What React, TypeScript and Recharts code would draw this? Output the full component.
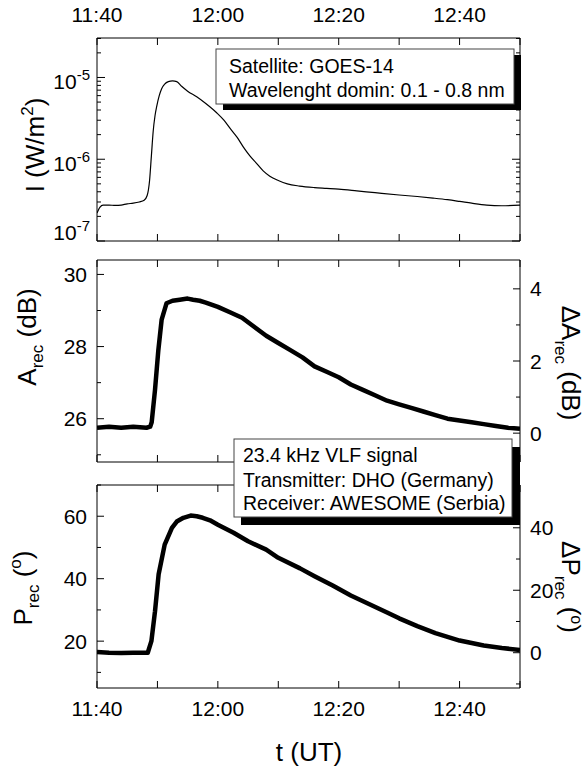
import React from 'react';
import { LineChart, Line, XAxis, YAxis } from 'recharts';

const FONT = '"Liberation Sans", Arial, sans-serif';

// minutes after 11:40 UT
const goesMin = [0, 0.5, 1, 2, 3, 4, 5, 6, 7, 7.8, 8.3, 8.7, 9.0, 9.3, 9.6, 9.9, 10.3, 10.7, 11.2, 11.8, 12.5, 13.2, 14.0, 15, 16.5, 18, 19.8, 21, 22, 23.2, 24.2, 25.3, 26.4, 27.5, 28.6, 30, 31.5, 33.5, 36, 38, 40, 43, 46, 50, 53, 55.6, 58, 60, 62, 64.5, 67, 70];
const goesFlux = [2.2e-7, 2.6e-7, 2.75e-7, 2.75e-7, 2.72e-7, 2.75e-7, 2.85e-7, 2.9e-7, 3.0e-7, 3.15e-7, 3.6e-7, 5.5e-7, 1.1e-6, 2.2e-6, 3.4e-6, 4.5e-6, 6.0e-6, 7.3e-6, 8.3e-6, 8.9e-6, 9.1e-6, 8.9e-6, 7.8e-6, 6.8e-6, 5.8e-6, 4.8e-6, 3.7e-6, 3.0e-6, 2.4e-6, 1.85e-6, 1.42e-6, 1.1e-6, 8.9e-7, 7.2e-7, 6.2e-7, 5.5e-7, 5.0e-7, 4.7e-7, 4.5e-7, 4.4e-7, 4.3e-7, 4.1e-7, 3.9e-7, 3.65e-7, 3.5e-7, 3.35e-7, 3.2e-7, 3.05e-7, 2.9e-7, 2.75e-7, 2.7e-7, 2.75e-7];

const ampMin = [0, 2, 4, 6, 8.2, 8.8, 9.05, 9.6, 10.15, 10.7, 11.5, 12.5, 13.7, 15, 15.9, 17, 18, 20, 22, 24, 26, 28, 30, 32, 34, 36, 38, 40, 42, 44, 46, 48, 50, 52, 54, 56, 58, 60, 62, 64, 66, 68, 70];
const ampDb = [25.75, 25.78, 25.75, 25.78, 25.75, 25.78, 25.9, 26.8, 27.9, 28.75, 29.2, 29.27, 29.3, 29.33, 29.3, 29.27, 29.22, 29.1, 28.95, 28.8, 28.55, 28.3, 28.1, 27.9, 27.7, 27.45, 27.3, 27.15, 26.95, 26.8, 26.65, 26.5, 26.4, 26.3, 26.2, 26.1, 26.0, 25.95, 25.9, 25.85, 25.8, 25.75, 25.72];

const phaseMin = [0, 2, 4, 6, 8.4, 9.0, 9.6, 10.2, 11.2, 12.4, 13.2, 14.3, 15.5, 16.5, 17.5, 18.7, 20, 22.6, 25, 28, 30, 33.6, 36, 39, 42, 45, 48, 50, 53, 56, 60, 64, 67, 70];
const phaseDeg = [16.5, 16.3, 16.2, 16.3, 16.3, 20, 29.6, 41.4, 50.9, 56.3, 58.3, 59.5, 60.2, 60, 59.5, 58.7, 57.3, 54.7, 52, 49.3, 46.7, 43.3, 40.8, 37.8, 34.6, 31.9, 29.2, 27.3, 24.8, 22.6, 20.2, 18.6, 17.8, 17.2];

const timeTicks = [0, 10, 20, 30, 40, 50, 60, 70];
const timeLabels: Record<number, string> = { 0: '11:40', 20: '12:00', 40: '12:20', 60: '12:40' };

const fluxTicks = [1e-7, 2e-7, 3e-7, 4e-7, 5e-7, 6e-7, 7e-7, 8e-7, 9e-7, 1e-6, 2e-6, 3e-6, 4e-6, 5e-6, 6e-6, 7e-6, 8e-6, 9e-6, 1e-5, 2e-5, 3e-5];
const ampTicks = [25, 26, 27, 28, 29, 30];
const ampMajor = [26, 28, 30];
const dAmpTicks = [0, 1, 2, 3, 4];
const dAmpMajor = [0, 2, 4];
const phaseTicks = [10, 20, 30, 40, 50, 60, 70];
const phaseMajor = [20, 40, 60];
const dPhaseTicks = [-10, 0, 10, 20, 30, 40, 50];
const dPhaseMajor = [0, 20, 40];

const AMP_REF = 25.6;
const PHASE_REF = 16.3;
const ampDomain = [24.8, 30.4];
const phaseDomain = [5, 70];

const goesData = goesMin.map((t, i) => ({ t, v: goesFlux[i] }));
const ampData = ampMin.map((t, i) => ({ t, v: ampDb[i] }));
const phaseData = phaseMin.map((t, i) => ({ t, v: phaseDeg[i] }));

const tickText = { fontFamily: FONT, fontSize: 21, fill: '#000' };

const xTick = (side: 'top' | 'bottom', withLabels: boolean) => (props: any) => {
  const { x, y, payload } = props;
  const dir = side === 'top' ? 1 : -1;
  const label = withLabels ? timeLabels[payload.value] : undefined;
  return (
    <g>
      <line x1={x} y1={y} x2={x} y2={y + dir * 7} stroke="#000" />
      {label && (
        <text x={x} y={side === 'top' ? y - 16 : y + 28} textAnchor="middle" {...tickText}>
          {label}
        </text>
      )}
    </g>
  );
};

const yTick = (side: 'left' | 'right', major: number[], withLabels: boolean) => (props: any) => {
  const { x, y, payload } = props;
  const v = payload.value;
  const isMajor = major.includes(v);
  const dir = side === 'left' ? 1 : -1;
  return (
    <g>
      <line x1={x} y1={y} x2={x + dir * (isMajor ? 7 : 4)} y2={y} stroke="#000" />
      {withLabels && isMajor && (
        <text x={side === 'left' ? x - 10 : x + 10} y={y + 7.5} textAnchor={side === 'left' ? 'end' : 'start'} {...tickText}>
          {v}
        </text>
      )}
    </g>
  );
};

const logTick = (side: 'left' | 'right') => (props: any) => {
  const { x, y, payload } = props;
  const v = payload.value;
  const exp = Math.round(Math.log10(v));
  const isMajor = Math.abs(v - Math.pow(10, exp)) < v * 1e-6;
  const dir = side === 'left' ? 1 : -1;
  return (
    <g>
      <line x1={x} y1={y} x2={x + dir * (isMajor ? 8 : 4)} y2={y} stroke="#000" />
      {side === 'left' && isMajor && (
        <text x={x - 7} y={exp === -7 ? y - 1 : y + 12} textAnchor="end" {...tickText}>
          10<tspan dy={-9} fontSize={15}>{exp}</tspan>
        </text>
      )}
    </g>
  );
};

const layer: React.CSSProperties = { position: 'absolute', left: 0, top: 0 };
const W = 588;
const H = 771;

// axes get 1px of room, so margins are 1px smaller than the plot box
function Panel({ top, bottom, children }: { top: number; bottom: number; children: React.ReactNode }) {
  return (
    <div style={layer}>
      <LineChart width={W} height={H} margin={{ top: top - 1, bottom: H - bottom - 1, left: 96, right: W - 520 - 1 }}>
        {children}
      </LineChart>
    </div>
  );
}

const axisCommon = { tickSize: 0, tickMargin: 0, tickLine: false, allowDataOverflow: true, interval: 0 as const, axisLine: { stroke: '#000' } };

function timeAxes(showTop: boolean, showBottom: boolean) {
  return [
    <XAxis key="xb" xAxisId="b" orientation="bottom" type="number" dataKey="t" domain={[0, 70]} ticks={timeTicks} height={1} {...axisCommon} tick={xTick('bottom', showBottom)} />,
    <XAxis key="xt" xAxisId="t" orientation="top" type="number" dataKey="t" domain={[0, 70]} ticks={timeTicks} height={1} {...axisCommon} tick={xTick('top', showTop)} />,
  ];
}

export default function App() {
  return (
    <div style={{ position: 'absolute', left: 0, top: 0, width: W, height: H, background: '#fff', fontFamily: FONT }}>
      <Panel top={38} bottom={241}>
        {timeAxes(true, false)}
        <YAxis yAxisId="l" orientation="left" scale="log" type="number" domain={[1e-7, 3.04e-5]} ticks={fluxTicks} width={1} {...axisCommon} tick={logTick('left')} />
        <YAxis yAxisId="r" orientation="right" scale="log" type="number" domain={[1e-7, 3.04e-5]} ticks={fluxTicks} width={1} {...axisCommon} tick={logTick('right')} />
        <Line data={goesData} xAxisId="b" yAxisId="l" dataKey="v" type="monotone" stroke="#000" strokeWidth={1.2} dot={false} isAnimationActive={false} />
      </Panel>

      <Panel top={260} bottom={462}>
        {timeAxes(false, false)}
        <YAxis yAxisId="l" orientation="left" type="number" domain={ampDomain} ticks={ampTicks} width={1} {...axisCommon} tick={yTick('left', ampMajor, true)} />
        <YAxis yAxisId="r" orientation="right" type="number" domain={[ampDomain[0] - AMP_REF, ampDomain[1] - AMP_REF]} ticks={dAmpTicks} width={1} {...axisCommon} tick={yTick('right', dAmpMajor, true)} />
        <Line data={ampData} xAxisId="b" yAxisId="l" dataKey="v" type="linear" stroke="#000" strokeWidth={4.5} strokeLinejoin="round" dot={false} isAnimationActive={false} />
      </Panel>

      <Panel top={485} bottom={688}>
        {timeAxes(false, true)}
        <YAxis yAxisId="l" orientation="left" type="number" domain={phaseDomain} ticks={phaseTicks} width={1} {...axisCommon} tick={yTick('left', phaseMajor, true)} />
        <YAxis yAxisId="r" orientation="right" type="number" domain={[phaseDomain[0] - PHASE_REF, phaseDomain[1] - PHASE_REF]} ticks={dPhaseTicks} width={1} {...axisCommon} tick={yTick('right', dPhaseMajor, true)} />
        <Line data={phaseData} xAxisId="b" yAxisId="l" dataKey="v" type="linear" stroke="#000" strokeWidth={4.5} strokeLinejoin="round" dot={false} isAnimationActive={false} />
      </Panel>

      <svg width={W} height={H} style={layer}>
        <g fontFamily={FONT} fontSize={26} fill="#000">
          <text transform="translate(44,145) rotate(-90)" textAnchor="middle">
            I (W/m<tspan dy={-11} fontSize={17}>2</tspan><tspan dy={11}>)</tspan>
          </text>
          <text transform="translate(36,337) rotate(-90)" textAnchor="middle">
            A<tspan dy={7} fontSize={17}>rec</tspan><tspan dy={-7}> (dB)</tspan>
          </text>
          <text transform="translate(32,588) rotate(-90)" textAnchor="middle">
            P<tspan dy={7} fontSize={17}>rec</tspan><tspan dy={-7}> (</tspan><tspan dy={-11} fontSize={17}>o</tspan><tspan dy={11}>)</tspan>
          </text>
          <text transform="translate(562,363) rotate(90)" textAnchor="middle">
            ΔA<tspan dy={7} fontSize={17}>rec</tspan><tspan dy={-7}> (dB)</tspan>
          </text>
          <text transform="translate(562,587) rotate(90)" textAnchor="middle">
            ΔP<tspan dy={7} fontSize={17}>rec</tspan><tspan dy={-7}> (</tspan><tspan dy={-9} fontSize={16}>o</tspan><tspan dy={9}>)</tspan>
          </text>
          <text x={309} y={761} textAnchor="middle">t (UT)</text>
        </g>

        <rect x={223} y={55} width={298} height={55} fill="#000" />
        <rect x={216} y={49} width={298} height={55} fill="#fff" stroke="#444" strokeWidth={1} />
        <g fontFamily={FONT} fontSize={19.5} fill="#000">
          <text x={229} y={73}>Satellite: GOES-14</text>
          <text x={229} y={97}>Wavelenght domin: 0.1 - 0.8 nm</text>
        </g>

        <rect x={241} y={447} width={279} height={78} fill="#000" />
        <rect x={234} y={439} width={278} height={78} fill="#fff" stroke="#444" strokeWidth={1} />
        <g fontFamily={FONT} fontSize={19.5} fill="#000">
          <text x={243} y={462}>23.4 kHz VLF signal</text>
          <text x={243} y={487}>Transmitter: DHO (Germany)</text>
          <text x={243} y={510}>Receiver: AWESOME (Serbia)</text>
        </g>
      </svg>
    </div>
  );
}
